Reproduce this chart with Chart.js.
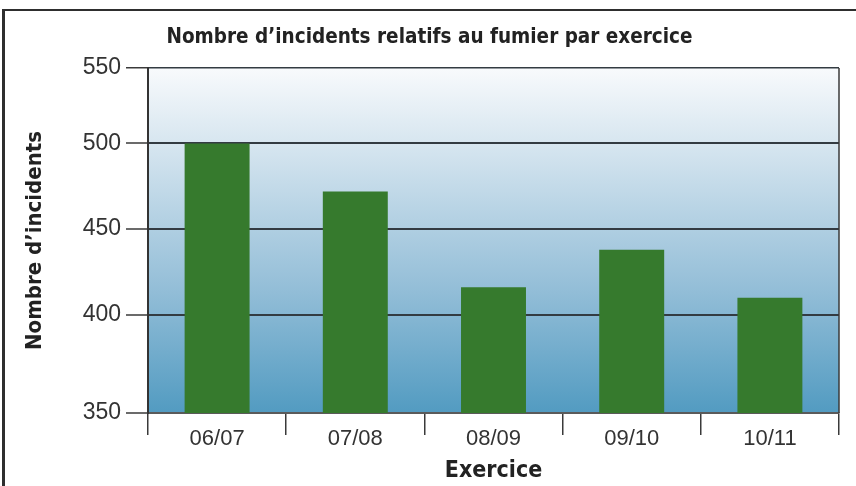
<!DOCTYPE html>
<html lang="fr">
<head>
<meta charset="utf-8">
<title>Nombre d’incidents relatifs au fumier par exercice</title>
<script src="https://cdn.jsdelivr.net/npm/chart.js@4/dist/chart.umd.min.js"></script>
<style>
  html, body { margin: 0; padding: 0; background: #fff; overflow: hidden; }
  #cadre {
    position: absolute; left: 2px; top: 9px; width: 900px; height: 600px;
    border-top: 2px solid #2e2e2e; border-left: 3px solid #2e2e2e;
  }
  #grafico { position: absolute; left: 0; top: 0; }
</style>
</head>
<body>
<div id="cadre"></div>
<canvas id="grafico" width="856" height="486"></canvas>
<script>
// Données
const exercices = ['06/07', '07/08', '08/09', '09/10', '10/11'];
const incidents = [500, 472, 416, 438, 410];
const yTickLabels = ['350', '400', '450', '500', '550'];
const yGridValues = [400, 450, 500];
// l'axe d'origine n'est pas régulier : 350 et 550 sont aux bords
const yMin = 342.7;
const yMax = 544;

const policeGras = "'DejaVu Sans Condensed', 'Liberation Sans', sans-serif";
const policeFine = "'Liberation Sans', Arial, sans-serif";

// fond dégradé + bord droit de la zone de tracé
const fondZone = {
  id: 'fondZone',
  beforeDraw(chart) {
    const { ctx, chartArea: a } = chart;
    const g = ctx.createLinearGradient(0, a.top, 0, a.bottom);
    g.addColorStop(0, '#f8fafc');
    g.addColorStop(0.25, '#d2e3ee');
    g.addColorStop(0.65, '#92bdd7');
    g.addColorStop(1, '#529bc1');
    ctx.save();
    ctx.fillStyle = g;
    ctx.fillRect(a.left, a.top, a.right - a.left, a.bottom - a.top);
    ctx.restore();
  },
  afterDraw(chart) {
    const { ctx, chartArea: a } = chart;
    ctx.save();
    ctx.strokeStyle = '#3a3a3a';
    ctx.lineWidth = 1.5;
    ctx.beginPath();
    ctx.moveTo(a.right, a.top);
    ctx.lineTo(a.right, a.bottom);
    ctx.stroke();
    ctx.restore();
  }
};

new Chart(document.getElementById('grafico'), {
  type: 'bar',
  data: {
    labels: exercices,
    datasets: [{
      label: 'Nombre d’incidents',
      data: incidents,
      backgroundColor: '#367a2d',
      barPercentage: 0.47,
      categoryPercentage: 1
    }]
  },
  options: {
    responsive: false,
    animation: false,
    devicePixelRatio: 1,
    layout: { padding: { left: 20, right: 17, top: 0, bottom: 0 } },
    scales: {
      x: {
        grid: {
          offset: true,
          drawOnChartArea: false,
          drawTicks: true,
          tickLength: 22,
          color: '#3a3a3a',
          lineWidth: 1.5
        },
        border: { color: '#5a5a5a', width: 2 },
        ticks: {
          color: '#333',
          padding: -9,
          font: { family: policeFine, size: 22 }
        },
        title: {
          display: true,
          text: 'Exercice',
          color: '#222',
          padding: { top: 0, bottom: 1 },
          font: { family: policeGras, size: 23, weight: 'bold' }
        },
        afterFit(scale) { scale.height = 73; }
      },
      y: {
        min: yMin,
        max: yMax,
        afterBuildTicks(scale) {
          scale.ticks = [yMin, ...yGridValues, yMax].map(v => ({ value: v }));
        },
        grid: {
          drawTicks: true,
          tickLength: 22,
          tickColor: '#3a3a3a',
          tickWidth: 1.5,
          color: ctx => ctx.index === 0 ? 'rgba(0,0,0,0)' : '#333b42',
          lineWidth: ctx => ctx.index === yTickLabels.length - 1 ? 1.5 : 2
        },
        border: { color: '#333', width: 2 },
        ticks: {
          color: '#333',
          padding: 5,
          autoSkip: false,
          font: { family: policeFine, size: 23 },
          callback: (v, i) => yTickLabels[i]
        },
        title: {
          display: true,
          text: 'Nombre d’incidents',
          color: '#222',
          padding: { top: 2, bottom: 0 },
          font: { family: policeGras, size: 22, weight: 'bold' }
        },
        afterFit(scale) { scale.width = 128; }
      }
    },
    plugins: {
      legend: { display: false },
      tooltip: { enabled: false },
      title: {
        display: true,
        text: 'Nombre d’incidents relatifs au fumier par exercice',
        color: '#222',
        font: { family: policeGras, size: 20.5, weight: 'bold' },
        padding: { top: 25, bottom: 18.4 }
      }
    }
  },
  plugins: [fondZone]
});
</script>
</body>
</html>
